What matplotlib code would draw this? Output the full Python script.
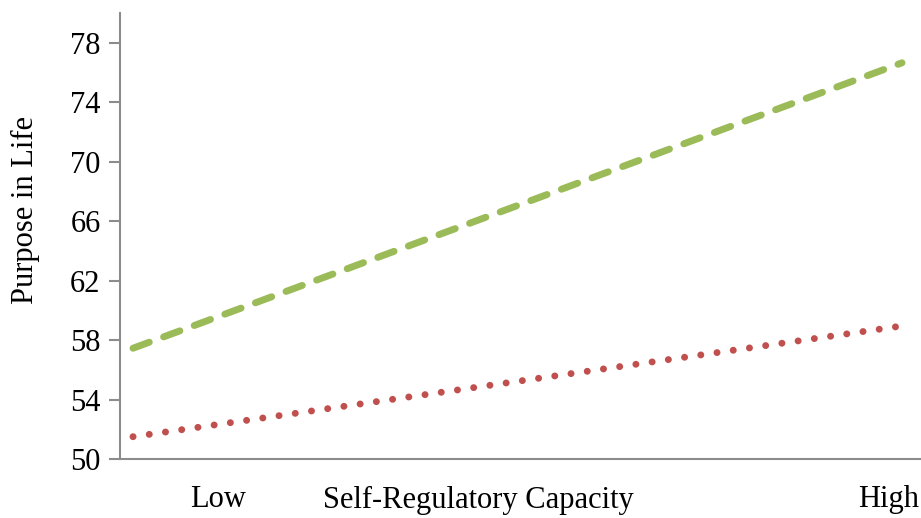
import matplotlib.pyplot as plt

# simple slopes: purpose in life by self-regulatory capacity
x_pos = [0, 1]
high_group = [57.45, 76.65]
low_group = [51.5, 58.95]

y_ticks = [50, 54, 58, 62, 66, 70, 74, 78]
x_tick_pos = [0.11, 0.982]
x_tick_labels = ["Low", "High"]

plt.rcParams["font.family"] = ["Liberation Serif", "DejaVu Serif"]
fs = 22

fig = plt.figure(figsize=(9.21, 5.18), dpi=100)
ax = fig.add_axes([0.1303, 0.1139, 0.8697, 0.861])

green, = ax.plot(x_pos, high_group, color="#9BBB59", lw=5.0)
green.set_dashes((2.5, 2.2))
green.set_dash_capstyle("round")

red, = ax.plot(x_pos, low_group, color="#C0504D", lw=5.0)
red.set_dashes((0.01, 2.35))
red.set_dash_capstyle("round")

ax.set_xlim(-0.0169, 1.0247)
ax.set_ylim(50, 80)
ax.set_yticks(y_ticks)
ax.set_xticks(x_tick_pos, x_tick_labels)

for side in ["top", "right"]:
    ax.spines[side].set_visible(False)
for side in ["left", "bottom"]:
    ax.spines[side].set_color("#8c8c8c")
    ax.spines[side].set_linewidth(1.5)

ax.tick_params(axis="y", colors="#8c8c8c", labelcolor="black", length=8,
               width=1.5, labelsize=fs, pad=6)
ax.tick_params(axis="x", length=0, labelsize=fs, pad=19)

ax.set_ylabel("Purpose in Life", fontsize=fs)
ax.yaxis.set_label_coords(-0.1, 0.558)
ax.set_xlabel("Self-Regulatory Capacity", fontsize=fs, va="top")
ax.xaxis.set_label_coords(0.447, -0.06)

fig.savefig("out.png", dpi=100)
